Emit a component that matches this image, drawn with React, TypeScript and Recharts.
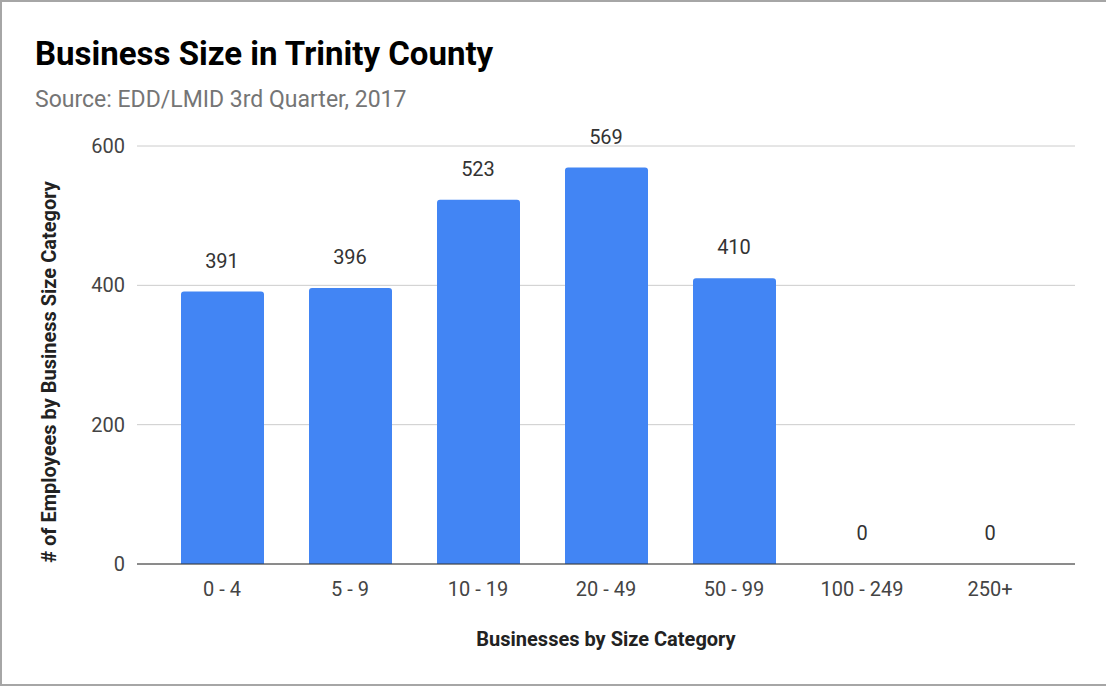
import { ComposedChart, Bar, Line, XAxis, YAxis, CartesianGrid, LabelList } from "recharts";

const categories = ["0 - 4", "5 - 9", "10 - 19", "20 - 49", "50 - 99", "100 - 249", "250+"];
const employees = [391, 396, 523, 569, 410, 0, 0];
const yTicks = [0, 200, 400, 600];

const data = categories.map((size, i) => ({ size, employees: employees[i] }));

const FONT = "Roboto, 'Noto Sans', sans-serif";

function YTitle(props: any) {
  const vb = props.viewBox || { y: 146, height: 418 };
  const cy = vb.y + vb.height / 2 + 17;
  return (
    <text x={49} y={cy} transform={`rotate(-90, 49, ${cy})`} textAnchor="middle" dominantBaseline="central"
      fontFamily={FONT} fontSize={20} fontWeight={700} fill="#222">
      # of Employees by Business Size Category
    </text>
  );
}

function XTitle(props: any) {
  const vb = props.viewBox || { x: 137, width: 938 };
  return (
    <text x={vb.x + vb.width / 2} y={646} textAnchor="middle" fontFamily={FONT} fontSize={20} fontWeight={700} fill="#222">
      Businesses by Size Category
    </text>
  );
}

export default function App() {
  return (
    <div style={{ position: "absolute", left: 0, top: 0, width: 1106, height: 687, background: "#fff", fontFamily: FONT }}>
      <div style={{ position: "absolute", left: 35, top: 37, fontSize: 33, lineHeight: 1, fontWeight: 700, color: "#000", whiteSpace: "nowrap" }}>
        Business Size in Trinity County
      </div>
      <div style={{ position: "absolute", left: 35, top: 88, fontSize: 23, lineHeight: 1, color: "#757575", whiteSpace: "nowrap" }}>
        Source: EDD/LMID 3rd Quarter, 2017
      </div>
      <div style={{ position: "absolute", left: 0, top: 0 }}>
        <ComposedChart width={1106} height={687} data={data} margin={{ top: 146, right: 31, bottom: 93, left: 0 }}>
          <CartesianGrid vertical={false} stroke="#cccccc" />
          <XAxis
            dataKey="size"
            padding={{ left: 21, right: 21 }}
            axisLine={{ stroke: "#333" }}
            tickLine={false}
            tickSize={6}
            tickMargin={12}
            tick={{ fontFamily: FONT, fontSize: 20, fill: "#444" }}
            interval={0}
            label={<XTitle />}
          />
          <YAxis
            width={137}
            domain={[0, 600]}
            ticks={yTicks}
            axisLine={false}
            tickLine={false}
            tickSize={6}
            tickMargin={6}
            tick={{ fontFamily: FONT, fontSize: 20, fill: "#444" }}
            label={<YTitle />}
          />
          <Bar dataKey="employees" fill="#4285f4" barSize={83} radius={[3, 3, 0, 0]} isAnimationActive={false} />
          {/* invisible line only to carry the value labels, so the 0 bars get one too */}
          <Line dataKey="employees" stroke="none" dot={false} activeDot={false} legendType="none" isAnimationActive={false}>
            <LabelList dataKey="employees" position="top" offset={24} fontFamily={FONT} fontSize={20} fill="#333" />
          </Line>
        </ComposedChart>
      </div>
      <div style={{ position: "absolute", left: 0, top: 0, width: 1106, height: 686, boxSizing: "border-box", borderLeft: "2px solid #a6a6a6", borderTop: "2px solid #a6a6a6", borderBottom: "2px solid #a6a6a6", pointerEvents: "none" }} />
    </div>
  );
}
